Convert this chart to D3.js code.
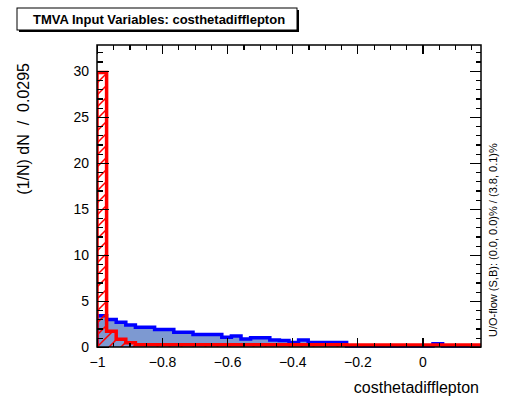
<!DOCTYPE html>
<meta charset="utf-8">
<style>
body { margin: 0; background: #fff; font-family: "Liberation Sans", Arial, Helvetica, sans-serif; }
.axis text { font: 14px "Liberation Sans", Arial, sans-serif; fill: #000; }
.axis path { display: none; }
.axis line { stroke: #000; stroke-width: 1.2; shape-rendering: crispEdges; }
</style>
<body>
<script src="https://d3js.org/d3.v7.min.js"></script>
<script>

// histogram: 40 bins of width 0.0295 starting at -1
var binStart = -1, binWidth = 0.0295, nBins = 40;

var signal = [3.4, 3.0, 2.7, 2.4, 2.15, 2.15, 1.9, 1.9, 1.6, 1.6,
              1.35, 1.35, 1.35, 1.05, 1.2, 0.87, 1.0, 1.0, 0.76, 0.7,
              0.5, 0.76, 0.5, 0.5, 0.5, 0.5, 0.1, 0.1, 0.1, 0.1,
              0.1, 0.1, 0.1, 0.1, 0.1, 0.35, 0.1, 0.1, 0.1, 0.1];

var background = [29.8, 1.7, 0.85, 0.45, 0.25, 0.25, 0.25, 0.25, 0.25, 0.25,
                  0.25, 0.25, 0.25, 0.25, 0.25, 0.25, 0.25, 0.25, 0.25, 0.25,
                  0.25, 0.25, 0.25, 0.25, 0.25, 0.25, 0.22, 0.22, 0.22, 0.22,
                  0.22, 0.22, 0.22, 0.22, 0.22, 0.22, 0.22, 0.22, 0.22, 0.22];

var xMajor = [-1, -0.8, -0.6, -0.4, -0.2, 0];
var xMajorLabels = ["\u22121", "\u22120.8", "\u22120.6", "\u22120.4", "\u22120.2", "0"];
var yMajor = [0, 5, 10, 15, 20, 25, 30];

var titleText = "TMVA Input Variables: costhetadifflepton";
var xTitle = "costhetadifflepton";
var yTitle = "(1/N) dN  /  0.0295";
var flowText = "U/O-flow (S,B): (0.0, 0.0)% / (3.8, 0.1)%";

var W = 505, H = 401;
var frame = {left: 97, right: 481, top: 45, bottom: 347};

var x = d3.scaleLinear().domain([binStart, binStart + nBins * binWidth]).range([frame.left, frame.right]);
var y = d3.scaleLinear().domain([0, 32.8]).range([frame.bottom, frame.top]);

var xMinor = d3.range(-1, 0.18, 0.05).filter(function(v) { return Math.abs(Math.round(v * 5) - v * 5) > 1e-6; });
var yMinor = d3.range(0, 33, 1).filter(function(v) { return v % 5 !== 0; });

var svg = d3.select("body").append("svg")
    .attr("width", W)
    .attr("height", H);

var defs = svg.append("defs");
var pat = defs.append("pattern")
    .attr("id", "hatch")
    .attr("patternUnits", "userSpaceOnUse")
    .attr("width", 12).attr("height", 12);
pat.append("path")
    .attr("d", "M-2,14 L14,-2 M-4,4 L4,-4 M8,16 L16,8")
    .attr("stroke", "#ff0000")
    .attr("stroke-width", 1.5);

function points(vals) {
  var p = [[x(binStart), y(0)]];
  vals.forEach(function(v, i) {
    p.push([x(binStart + i * binWidth), y(v)]);
    p.push([x(binStart + (i + 1) * binWidth), y(v)]);
  });
  p.push([x(binStart + nBins * binWidth), y(0)]);
  return p;
}

var line = d3.line();

var plot = svg.append("g");
plot.append("clipPath").attr("id", "clip")
  .append("rect")
    .attr("x", frame.left).attr("y", frame.top)
    .attr("width", frame.right - frame.left).attr("height", frame.bottom - frame.top + 2);

var hg = plot.append("g").attr("clip-path", "url(#clip)");

// signal: filled blue
hg.append("path")
    .attr("d", line(points(signal)) + "Z")
    .attr("fill", "#7d99d1")
    .attr("stroke", "none");
hg.append("path")
    .attr("d", line(points(signal)))
    .attr("fill", "none")
    .attr("stroke", "#0000ff")
    .attr("stroke-width", 3.5);

// background: red hatched
hg.append("path")
    .attr("d", line(points(background)) + "Z")
    .attr("fill", "url(#hatch)")
    .attr("stroke", "none");
hg.append("path")
    .attr("d", line(points(background)))
    .attr("fill", "none")
    .attr("stroke", "#ff0000")
    .attr("stroke-width", 3.5);

// axes
svg.append("g").attr("class", "axis")
    .attr("transform", "translate(0," + frame.bottom + ")")
    .call(d3.axisBottom(x).tickValues(xMajor).tickSize(-9).tickPadding(10)
      .tickFormat(function(d, i) { return xMajorLabels[i]; }));
svg.append("g").attr("class", "axis")
    .attr("transform", "translate(0," + frame.bottom + ")")
    .call(d3.axisBottom(x).tickValues(xMinor).tickSize(-4.5).tickFormat(""));
svg.append("g").attr("class", "axis")
    .attr("transform", "translate(0," + frame.top + ")")
    .call(d3.axisTop(x).tickValues(xMajor).tickSize(-9).tickFormat(""));
svg.append("g").attr("class", "axis")
    .attr("transform", "translate(0," + frame.top + ")")
    .call(d3.axisTop(x).tickValues(xMinor).tickSize(-4.5).tickFormat(""));

svg.append("g").attr("class", "axis")
    .attr("transform", "translate(" + frame.left + ",0)")
    .call(d3.axisLeft(y).tickValues(yMajor).tickSize(-11.5).tickPadding(8).tickFormat(d3.format("d")));
svg.append("g").attr("class", "axis")
    .attr("transform", "translate(" + frame.left + ",0)")
    .call(d3.axisLeft(y).tickValues(yMinor).tickSize(-5.5).tickFormat(""));
svg.append("g").attr("class", "axis")
    .attr("transform", "translate(" + frame.right + ",0)")
    .call(d3.axisRight(y).tickValues(yMajor).tickSize(-11.5).tickFormat(""));
svg.append("g").attr("class", "axis")
    .attr("transform", "translate(" + frame.right + ",0)")
    .call(d3.axisRight(y).tickValues(yMinor).tickSize(-5.5).tickFormat(""));

// frame
svg.append("rect")
    .attr("x", frame.left).attr("y", frame.top)
    .attr("width", frame.right - frame.left).attr("height", frame.bottom - frame.top)
    .attr("fill", "none")
    .attr("stroke", "#000")
    .attr("stroke-width", 1.5);

// title box with shadow
svg.append("rect")
    .attr("x", 19).attr("y", 10).attr("width", 280).attr("height", 22)
    .attr("fill", "#000");
svg.append("rect")
    .attr("x", 17).attr("y", 8).attr("width", 280).attr("height", 22)
    .attr("fill", "#fff").attr("stroke", "#000").attr("stroke-width", 1);
svg.append("text")
    .attr("x", 33).attr("y", 24)
    .attr("font-size", 13).attr("font-weight", "bold")
    .text(titleText);

// axis titles
svg.append("text")
    .attr("x", 479).attr("y", 393)
    .attr("text-anchor", "end")
    .attr("font-size", 16)
    .text(xTitle);

svg.append("text")
    .attr("transform", "translate(29,63) rotate(-90)")
    .attr("text-anchor", "end")
    .attr("font-size", 16)
    .style("white-space", "pre")
    .text(yTitle);

svg.append("text")
    .attr("transform", "translate(497,337) rotate(-90)")
    .attr("text-anchor", "start")
    .attr("font-size", 11)
    .text(flowText);

</script>
